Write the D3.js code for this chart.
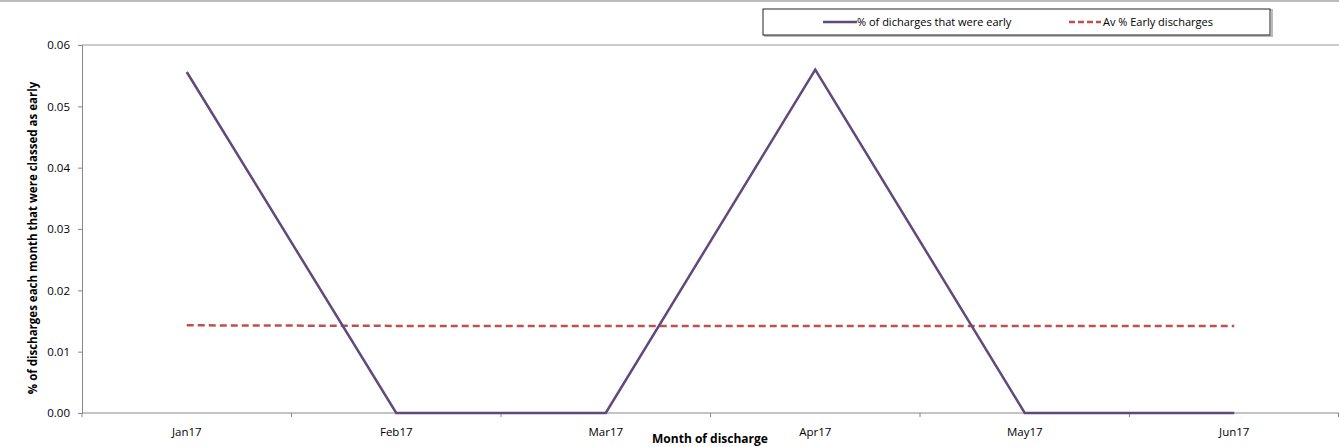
<!DOCTYPE html>
<html>
<head>
<meta charset="utf-8"/>
<title>Early discharges</title>
<style>
  body { margin: 0; background: #fff; }
  svg text { font-family: "Open Sans", Lato, sans-serif; fill: #000; }
</style>
</head>
<body>
<svg width="1339" height="447"></svg>
<script src="https://cdn.jsdelivr.net/npm/d3@7"></script>
<script>

var months = ["Jan17", "Feb17", "Mar17", "Apr17", "May17", "Jun17"];
var earlyPct = [0.0556, 0, 0, 0.0560, 0, 0];
var avgPct = [0.0143, 0.0142, 0.0142, 0.0142, 0.0142, 0.0142];
var yTicks = [0, 0.01, 0.02, 0.03, 0.04, 0.05, 0.06];

var svg = d3.select("svg"),
    plotLeft = 82, plotRight = 1339, plotTop = 45, plotBottom = 413;

var x = d3.scaleBand().domain(months).range([plotLeft, plotRight]);
var y = d3.scaleLinear().domain([0, 0.06]).range([plotBottom, plotTop]);

// outer frame line at the very top
svg.append("line")
    .attr("x1", 0).attr("x2", 1339).attr("y1", 1).attr("y2", 1)
    .attr("stroke", "#bbb").attr("stroke-width", 2);

// top border of plot area
svg.append("line")
    .attr("x1", plotLeft).attr("x2", plotRight).attr("y1", y(0.06)).attr("y2", y(0.06))
    .attr("stroke", "#bbb").attr("stroke-width", 1.5);

// y axis
var yAxis = svg.append("g")
    .attr("transform", "translate(" + plotLeft + ",0)")
    .call(d3.axisLeft(y).tickValues(yTicks).tickFormat(d3.format(".2f")).tickSize(4).tickPadding(8));
yAxis.select(".domain").attr("stroke", "#888");
yAxis.selectAll(".tick line").attr("stroke", "#888");
yAxis.selectAll("text").style("font-size", "11.5px").style("font-family", "'Open Sans', sans-serif");

// x axis: ticks at band edges
var xAxis = svg.append("g")
    .attr("transform", "translate(0," + plotBottom + ")");
xAxis.append("line")
    .attr("x1", plotLeft).attr("x2", plotRight).attr("stroke", "#888");
var edges = months.map(function(m) { return x(m); }).concat([plotRight - 0.5]);
xAxis.selectAll(".edge").data(edges).enter().append("line")
    .attr("x1", function(d) { return d; }).attr("x2", function(d) { return d; })
    .attr("y1", 0).attr("y2", 4).attr("stroke", "#888");
xAxis.selectAll(".lbl").data(months).enter().append("text")
    .attr("x", function(d) { return x(d) + x.bandwidth() / 2; })
    .attr("y", 23)
    .attr("text-anchor", "middle")
    .style("font-size", "11.5px")
    .text(function(d) { return d; });

// axis titles
svg.append("text")
    .attr("x", 710).attr("y", 443)
    .attr("text-anchor", "middle")
    .style("font-size", "12px").style("font-weight", "bold")
    .text("Month of discharge");

svg.append("text")
    .attr("transform", "translate(37,238) rotate(-90)")
    .attr("text-anchor", "middle")
    .style("font-size", "11.5px").style("font-weight", "bold")
    .text("% of discharges each month that were classed as early");

var cx = function(d, i) { return x(months[i]) + x.bandwidth() / 2; };

// average line
svg.append("path")
    .datum(avgPct)
    .attr("fill", "none")
    .attr("stroke", "#C0504D")
    .attr("stroke-width", 2.5)
    .attr("stroke-dasharray", "7,4")
    .attr("d", d3.line().x(cx).y(function(d) { return y(d); }));

// main series
svg.append("path")
    .datum(earlyPct)
    .attr("fill", "none")
    .attr("stroke", "#604A7B")
    .attr("stroke-width", 2.5)
    .attr("d", d3.line().x(cx).y(function(d) { return y(d); }));

// legend
var lg = svg.append("g");
lg.append("rect")
    .attr("x", 765).attr("y", 10).attr("width", 507).attr("height", 26)
    .attr("fill", "none").attr("stroke", "#bbb").attr("stroke-width", 2);
lg.append("rect")
    .attr("x", 763).attr("y", 9).attr("width", 507).attr("height", 26)
    .attr("fill", "#fff").attr("stroke", "#222").attr("stroke-width", 1);

lg.append("line")
    .attr("x1", 823).attr("x2", 857).attr("y1", 22).attr("y2", 22)
    .attr("stroke", "#604A7B").attr("stroke-width", 2.5);
lg.append("text")
    .attr("x", 857).attr("y", 26)
    .style("font-size", "11px")
    .text("% of dicharges that were early");

lg.append("line")
    .attr("x1", 1069).attr("x2", 1101).attr("y1", 22).attr("y2", 22)
    .attr("stroke", "#C0504D").attr("stroke-width", 2.5)
    .attr("stroke-dasharray", "6,3");
lg.append("text")
    .attr("x", 1103).attr("y", 26)
    .style("font-size", "11px")
    .text("Av % Early discharges");

</script>
</body>
</html>
